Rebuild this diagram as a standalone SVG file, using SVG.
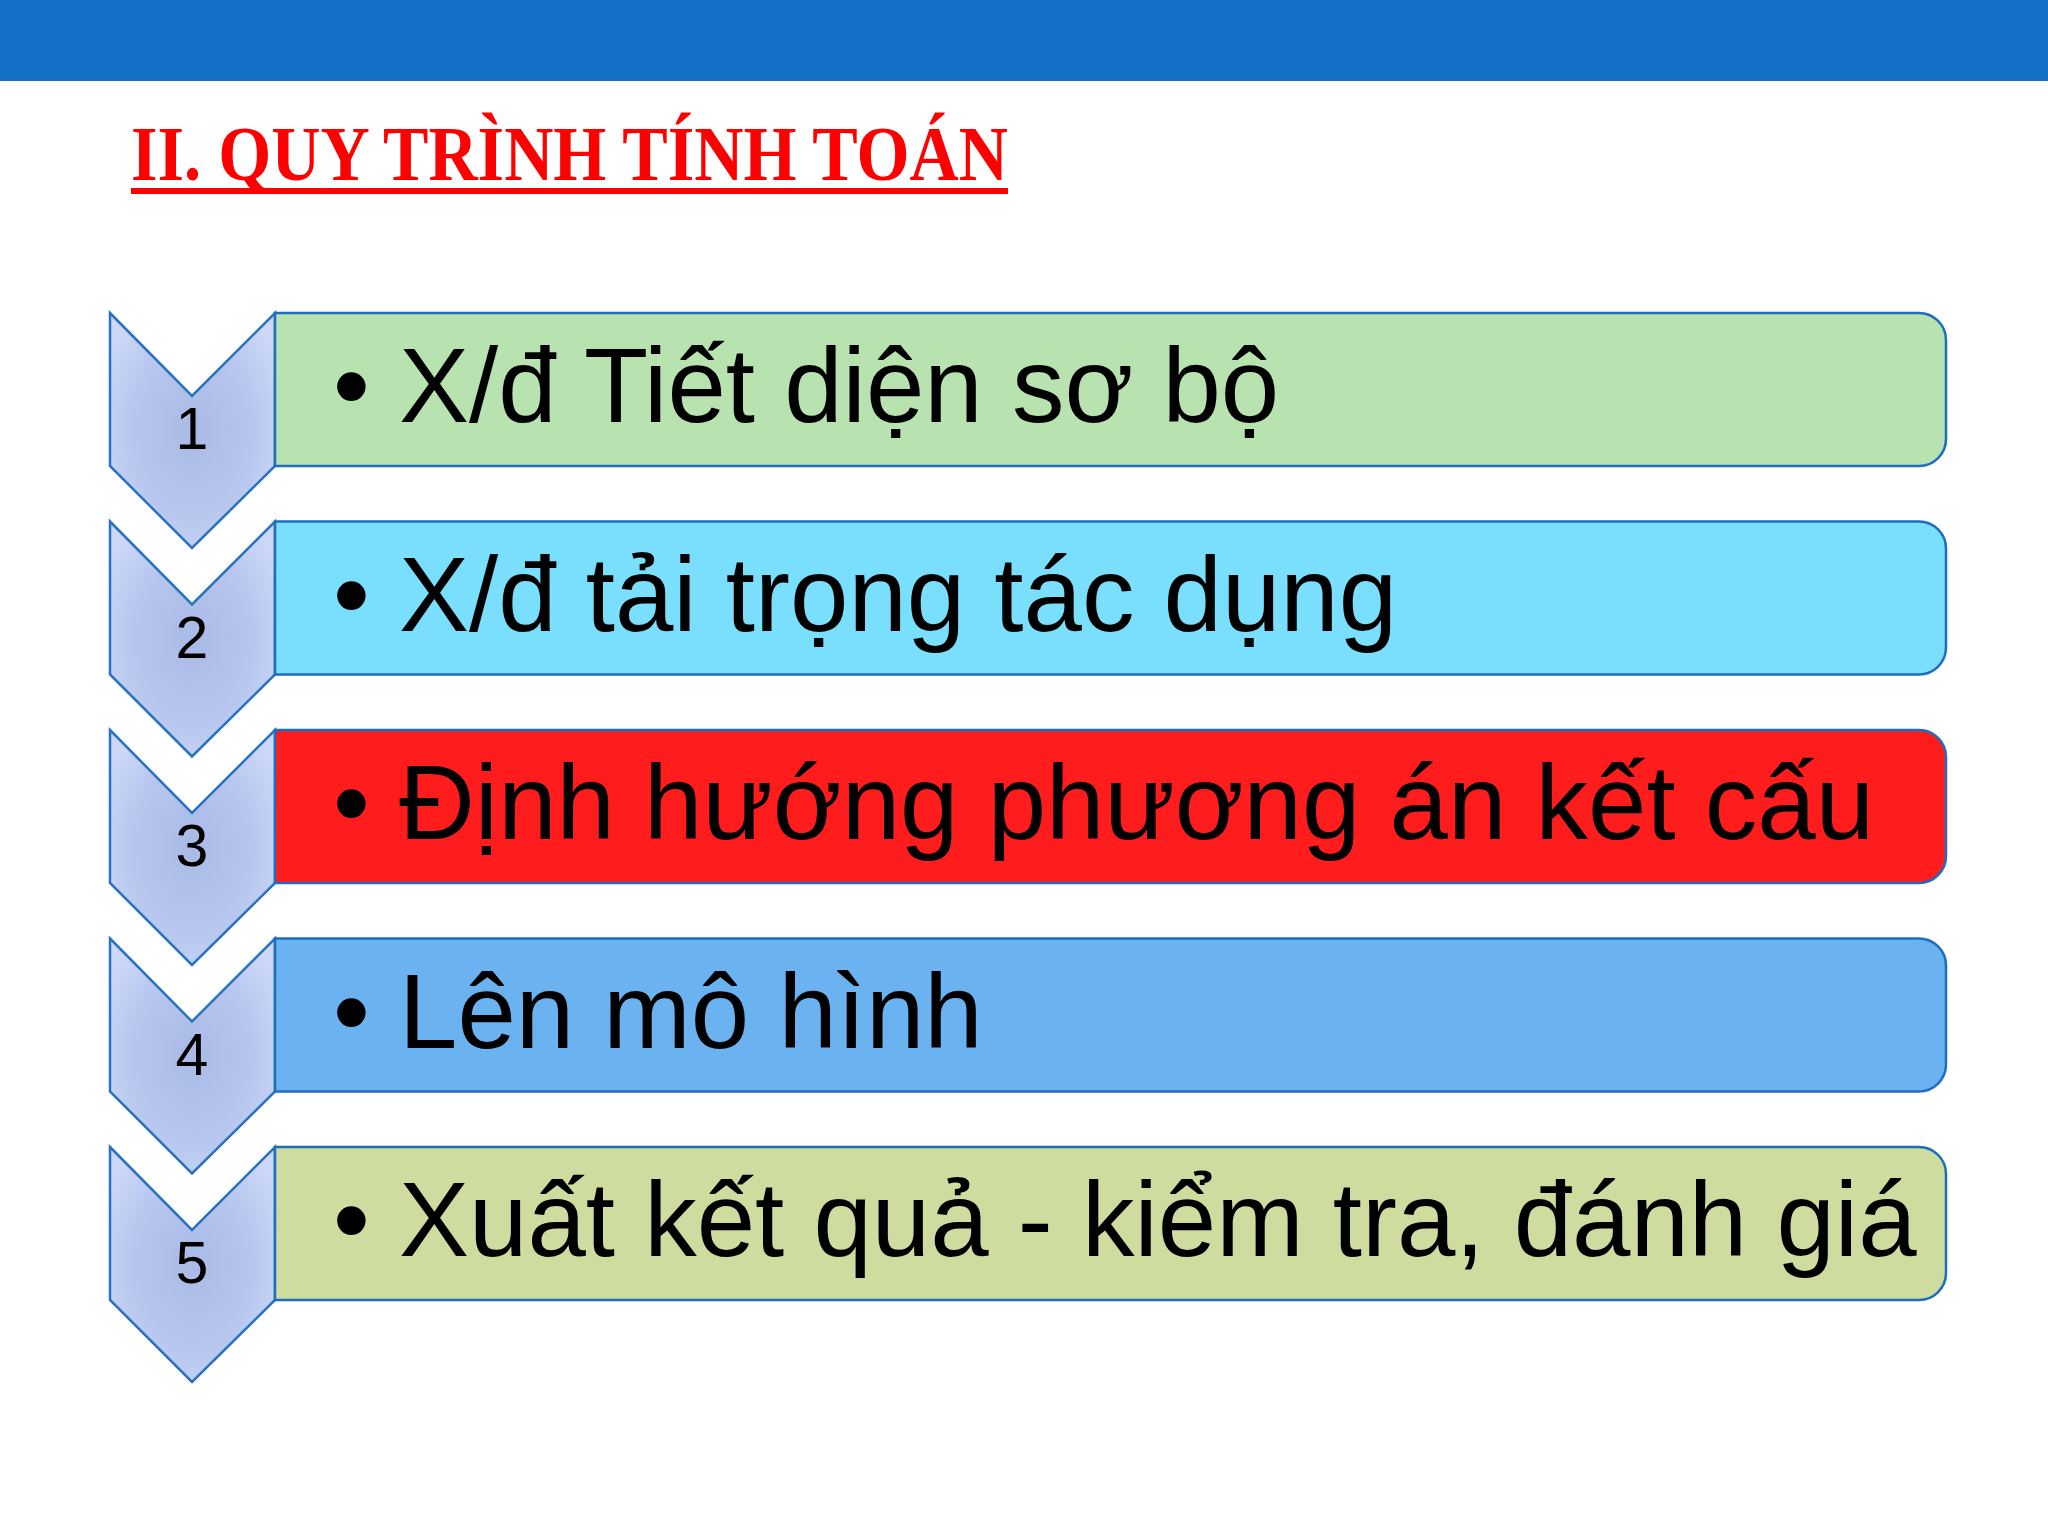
<svg xmlns="http://www.w3.org/2000/svg" width="2048" height="1536" viewBox="0 0 2048 1536">
<defs>
<radialGradient id="cg" cx="0.5" cy="0.5" r="0.6">
<stop offset="0" stop-color="#A9BAE6"/>
<stop offset="0.6" stop-color="#B6C6EE"/>
<stop offset="1" stop-color="#CCD8F6"/>
</radialGradient>
<path id="chev" d="M110,0 L192,83 L275,0 L275,153 L192,235 L110,153 Z"/>
<path id="box" d="M275,0 H1919 A27,27 0 0 1 1946,27 V126 A27,27 0 0 1 1919,153 H275 Z"/>
</defs>
<style>
.chev{fill:url(#cg);stroke:#2A72C2;stroke-width:2.5;stroke-linejoin:miter}
.box{stroke:#1F6DBF;stroke-width:2.5}
.num{font-family:"Liberation Sans",Arial,sans-serif;font-size:59px;fill:#000;text-anchor:middle}
.txt{font-family:"Liberation Sans",Arial,sans-serif;font-size:105px;fill:#000}
.title{font-family:"Liberation Serif","Times New Roman",serif;font-weight:bold;font-size:78px;fill:#FF0000}
</style>
<rect x="0" y="0" width="2048" height="81" fill="#1570C8"/>
<g id="title">
<text class="title" x="131" y="180" textLength="877" lengthAdjust="spacingAndGlyphs">II. QUY TRÌNH TÍNH TOÁN</text>
<rect x="131" y="188" width="877" height="6" fill="#FF0000"/>
</g>
<g id="connectors"></g>
<g id="step1" transform="translate(0,313)">
<use href="#chev" class="chev"/>
<use href="#box" class="box" fill="#B8E2B0"/>
<text class="num" x="192" y="136">1</text>
<text class="txt" x="333" y="109">•</text>
<text class="txt" x="399" y="109">X/đ Tiết diện sơ bộ</text>
</g>
<g id="step2" transform="translate(0,521.5)">
<use href="#chev" class="chev"/>
<use href="#box" class="box" fill="#7ADFFC"/>
<text class="num" x="192" y="136">2</text>
<text class="txt" x="333" y="109">•</text>
<text class="txt" x="399" y="109">X/đ tải trọng tác dụng</text>
</g>
<g id="step3" transform="translate(0,730)">
<use href="#chev" class="chev"/>
<use href="#box" class="box" fill="#FF1C1C"/>
<text class="num" x="192" y="136">3</text>
<text class="txt" x="333" y="109">•</text>
<text class="txt" x="399" y="109">Định hướng phương án kết cấu</text>
</g>
<g id="step4" transform="translate(0,938.5)">
<use href="#chev" class="chev"/>
<use href="#box" class="box" fill="#6AB2F0"/>
<text class="num" x="192" y="136">4</text>
<text class="txt" x="333" y="109">•</text>
<text class="txt" x="399" y="109">Lên mô hình</text>
</g>
<g id="step5" transform="translate(0,1147)">
<use href="#chev" class="chev"/>
<use href="#box" class="box" fill="#CEDD9F"/>
<text class="num" x="192" y="136">5</text>
<text class="txt" x="333" y="109">•</text>
<text class="txt" x="399" y="109">Xuất kết quả - kiểm tra, đánh giá</text>
</g>
</svg>
